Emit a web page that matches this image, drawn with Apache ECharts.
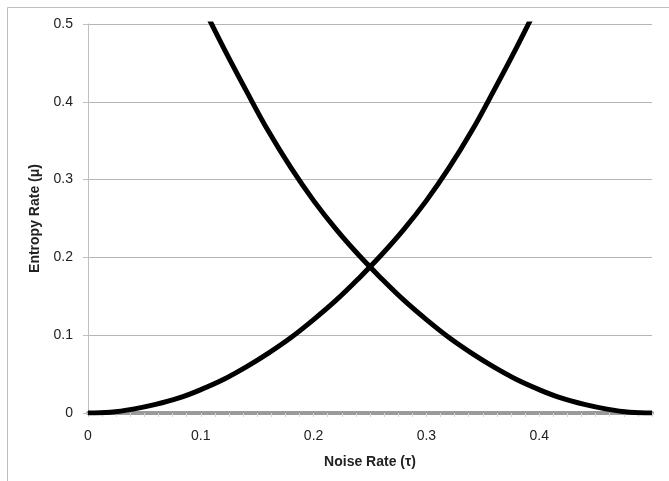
<!DOCTYPE html>
<html>
<head>
<meta charset="utf-8">
<script src="https://cdn.jsdelivr.net/npm/echarts@6/dist/echarts.min.js"></script>
<style>
html,body{margin:0;padding:0;background:#fff;}
#chart{width:669px;height:481px;}
</style>
</head>
<body>
<div id="chart"></div>
<script>
// Noise rate (tau) sample points and the two entropy-rate curves
const tauRising  = [0, 0.02, 0.04, 0.06, 0.08, 0.10, 0.12, 0.14, 0.16, 0.18, 0.20, 0.22, 0.24, 0.26, 0.28, 0.30, 0.32, 0.34, 0.36, 0.38, 0.40];
const muRising   = [0, 0.001, 0.005, 0.011, 0.019, 0.030, 0.043, 0.059, 0.077, 0.097, 0.120, 0.145, 0.173, 0.203, 0.236, 0.273, 0.315, 0.362, 0.415, 0.470, 0.528];
const tauFalling = [0.10, 0.12, 0.14, 0.16, 0.18, 0.20, 0.22, 0.24, 0.26, 0.28, 0.30, 0.32, 0.34, 0.36, 0.38, 0.40, 0.42, 0.44, 0.46, 0.48, 0.50];
const muFalling  = [0.528, 0.470, 0.415, 0.362, 0.315, 0.273, 0.236, 0.203, 0.173, 0.145, 0.120, 0.097, 0.077, 0.059, 0.043, 0.030, 0.019, 0.011, 0.005, 0.001, 0];
const xTitle = 'Noise Rate (τ)';
const yTitle = 'Entropy Rate (μ)';

const pairs = (xs, ys) => xs.map((x, i) => [x, ys[i]]);
const chart = echarts.init(document.getElementById('chart'), null, {renderer: 'canvas'});
const font = '"Liberation Sans", Arial, sans-serif';
chart.setOption({
  animation: false,
  backgroundColor: '#fff',
  graphic: [{
    type: 'rect', silent: true,
    shape: {x: 7.5, y: 7.5, width: 720, height: 540},
    style: {fill: 'none', stroke: '#bdbdbd', lineWidth: 1}
  }],
  grid: {left: 88, right: 17, top: 24, bottom: 68, containLabel: false},
  xAxis: {
    type: 'value', min: 0, max: 0.5, interval: 0.1,
    name: xTitle, nameLocation: 'middle', nameGap: 42,
    nameTextStyle: {fontFamily: font, fontWeight: 'bold', fontSize: 14, color: '#222'},
    axisLine: {show: true, onZero: false, lineStyle: {color: '#9a9a9a', width: 4}},
    axisTick: {show: true, inside: false, length: 4, lineStyle: {color: '#d4d4d4'}},
    minorTick: {show: true, splitNumber: 8, length: 4, lineStyle: {color: '#d4d4d4'}},
    axisLabel: {fontFamily: font, fontSize: 14, color: '#222', margin: 16, showMaxLabel: false},
    splitLine: {show: false}
  },
  yAxis: {
    type: 'value', min: 0, max: 0.5, interval: 0.1,
    name: yTitle, nameLocation: 'middle', nameGap: 45, nameRotate: 90,
    nameTextStyle: {fontFamily: font, fontWeight: 'bold', fontSize: 14, color: '#222'},
    axisLine: {show: true, lineStyle: {color: '#bfbfbf', width: 1}},
    axisTick: {show: true, inside: false, length: 5, lineStyle: {color: '#bfbfbf'}},
    axisLabel: {fontFamily: font, fontSize: 14, color: '#222', margin: 15},
    splitLine: {show: true, lineStyle: {color: '#b5b5b5', width: 1}}
  },
  series: [
    {type: 'line', data: pairs(tauRising, muRising), smooth: 0.4, showSymbol: false, clip: true,
     lineStyle: {color: '#000', width: 5}, z: 3},
    {type: 'line', data: pairs(tauFalling, muFalling), smooth: 0.4, showSymbol: false, clip: true,
     lineStyle: {color: '#000', width: 5}, z: 3}
  ]
});
</script>
</body>
</html>
